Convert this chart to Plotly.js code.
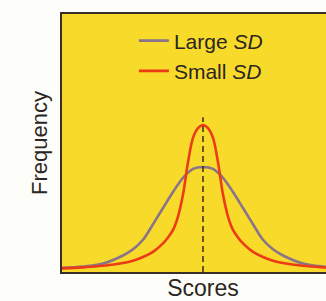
<!DOCTYPE html>
<html>
<head>
<meta charset="utf-8">
<script src="https://cdn.plot.ly/plotly-3.0.1.min.js"></script>
<style>
html,body{margin:0;padding:0;overflow:hidden;background:#fdfdf9;}
#chart{width:346px;height:301px;}
</style>
</head>
<body>
<div id="chart"></div>
<script>
// Scores (centered on the mean) and frequencies
const scoresLarge = [-3.525,-3,-2.5,-2,-1.75,-1.5,-1.25,-1,-0.75,-0.5,-0.25,0,0.25,0.5,0.75,1,1.25,1.5,1.75,2,2.5,3,3.525];
const freqLarge   = [1.6,2.1,3.3,6.4,8.8,12.5,18.5,24.8,31.0,36.5,40.0,40.7,40.0,36.5,31.0,24.8,18.5,12.5,8.8,6.4,3.3,2.1,1.6];
const scoresSmall = [-3.525,-3,-2.5,-2,-1.75,-1.5,-1.25,-1,-0.875,-0.75,-0.625,-0.5,-0.375,-0.25,-0.125,0,0.125,0.25,0.375,0.5,0.625,0.75,0.875,1,1.25,1.5,1.75,2,2.5,3,3.525];
const freqSmall   = [1.4,1.8,2.4,3.5,4.4,5.8,7.8,11.1,13.4,16.3,21.5,30.0,42.5,52.0,55.8,57.0,55.8,52.0,42.5,30.0,21.5,16.3,13.4,11.1,7.8,5.8,4.4,3.5,2.4,1.8,1.4];
const meanX = [0,0];
const meanY = [0,60];
const seriesNames = ["Large <i>SD</i>","Small <i>SD</i>"];

const traces = [
  {x: scoresLarge, y: freqLarge, name: seriesNames[0], mode:'lines',
   line:{color:'#8a7488', width:2.6, shape:'spline', smoothing:1}},
  {x: scoresSmall, y: freqSmall, name: seriesNames[1], mode:'lines',
   line:{color:'#ec3b17', width:2.6, shape:'spline', smoothing:1}},
  {x: meanX, y: meanY, mode:'lines', showlegend:false, hoverinfo:'skip',
   line:{color:'#3a2a1e', width:1.5, dash:'6px,4px'}}
];

const font = {family:'"Liberation Sans", Arial, sans-serif', color:'#2b2622'};
const layout = {
  width:346, height:301,
  margin:{l:62, r:2, t:14, b:29},
  paper_bgcolor:'#fdfdf9',
  plot_bgcolor:'#f8da2b',
  font: font,
  showlegend:true,
  legend:{x:0.255, y:0.975, xanchor:'left', yanchor:'top', bgcolor:'rgba(0,0,0,0)',
          font:{size:21, family:font.family, color:'#2b2622'}, tracegroupgap:0},
  xaxis:{range:[-3.525,3.525], showgrid:false, zeroline:false, showticklabels:false, ticks:'',
         showline:true, linecolor:'#3a2e28', linewidth:2, mirror:true,
         title:{text:'Scores', font:{size:23}, standoff:12}},
  yaxis:{range:[0,100], showgrid:false, zeroline:false, showticklabels:false, ticks:'',
         showline:true, linecolor:'#3a2e28', linewidth:2, mirror:true,
         title:{text:'Frequency', font:{size:22}, standoff:6}}
};
Plotly.newPlot('chart', traces, layout, {displayModeBar:false, staticPlot:true});
</script>
</body>
</html>
